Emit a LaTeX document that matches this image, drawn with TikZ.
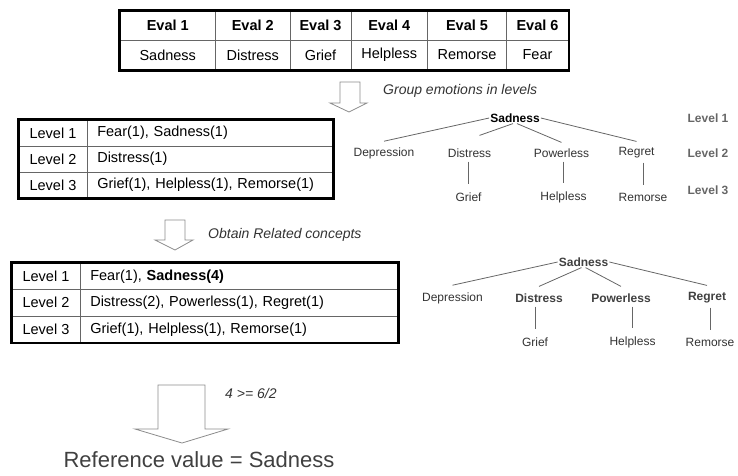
\documentclass[tikz,border=0pt]{standalone}
\usepackage{fontspec}
\setmainfont{Liberation Sans}
\usepackage{tikz}
\tikzstyle{cell}=[
        draw=black!60,
        line width=0.6pt,
        inner sep=0pt,
        font=\fontsize{14.5}{17}\selectfont
]
\tikzstyle{headcell}=[
        cell,
        font=\fontsize{14.5}{17}\selectfont\bfseries
]
\tikzstyle{frame}=[
        draw=black,
        line width=2.5pt
]
\tikzstyle{blockarrow}=[
        draw=black!45,
        fill=white,
        line width=0.8pt
]
\tikzstyle{note}=[
        font=\fontsize{14}{16}\selectfont\itshape,
        text=black!80,
        anchor=west,
        inner sep=0pt
]
\tikzstyle{concept}=[
        font=\fontsize{12}{14}\selectfont,
        text=black!80,
        inner sep=1pt
]
\tikzstyle{rootconcept}=[
        concept,
        font=\fontsize{12}{14}\selectfont\bfseries
]
\tikzstyle{levelname}=[
        font=\fontsize{12}{14}\selectfont\bfseries,
        text=black!60
]
\tikzstyle{branch}=[
        draw=black!60,
        line width=0.8pt
]
\tikzstyle{stem}=[
        branch,
        shorten <=3pt,
        shorten >=7pt
]

\begin{document}
\begin{tikzpicture}[x=1pt, y=-1pt]
                        \useasboundingbox (0,0) rectangle (738,475);

                        % evaluations
                        \foreach \l/\r/\h/\e [count=\i] in {120/215.5/Eval 1/Sadness, 215.5/290/Eval 2/Distress, 290/351/Eval 3/Grief, 351/427.5/Eval 4/Helpless, 427.5/506.5/Eval 5/Remorse, 506.5/568.5/Eval 6/Fear} {
                            \node[headcell, minimum width=\r-\l, minimum height=29] (h\i) at ({(\l+\r)/2},25.5) {\h};
                            \node[cell, minimum width=\r-\l, minimum height=30] (e\i) at ({(\l+\r)/2},55) {\e};
                        }
                        \draw[frame] (h1.north west) rectangle (e6.south east);

                        \draw[blockarrow] (340,82) -- (360,82) -- (360,103) -- (367,103) -- (349,112) -- (330,103) -- (340,103) -- cycle;
                        \node[note] (groupnote) at (383,91) {Group emotions in levels};

                        % first grouping
                        \foreach \lv/\txt [count=\i] in {Level 1/{Fear(1), Sadness(1)}, Level 2/{Distress(1)}, Level 3/{Grief(1), Helpless(1), Remorse(1)}} {
                            \node[cell, minimum width=68, minimum height=26] (la\i) at (53,107+26*\i) {\lv};
                            \node[cell, text width=226pt, inner xsep=10pt, align=left, minimum height=26, anchor=west] (ga\i) at (87,107+26*\i) {\txt};
                        }
                        \draw[frame] (la1.north west) rectangle (ga3.south east);

                        \node[rootconcept, text=black] (sad1) at (515,118) {Sadness};
                        \node[concept] (dep1) at (384,153) {Depression};
                        \node[concept] (dis1) at (469.5,153) {Distress};
                        \node[concept] (pow1) at (561.5,153) {Powerless};
                        \node[concept] (reg1) at (636.5,153) {Regret};
                        \node[concept] (gri1) at (468.5,197) {Grief};
                        \node[concept] (hel1) at (563.5,197) {Helpless};
                        \node[concept] (rem1) at (643,197) {Remorse};
                        \node[levelname] (lvl1) at (708,118) {Level 1};
                        \node[levelname] (lvl2) at (708,153) {Level 2};
                        \node[levelname] (lvl3) at (708,190) {Level 3};

                        \draw[branch] (sad1.west) -- ([yshift=5pt]dep1.north);
                        \draw[branch] (sad1.250) -- ([shift={(10pt,12pt)}]dis1.north);
                        \draw[branch] (sad1.290) -- ([yshift=5pt]pow1.north);
                        \draw[branch] (sad1.east) -- ([yshift=5pt]reg1.north);
                        \draw[stem] (gri1.north |- dis1.south) -- (gri1.north);
                        \draw[stem] (hel1.north |- pow1.south) -- (hel1.north);
                        \draw[stem] (rem1.north |- reg1.south) -- (rem1.north);

                        \draw[blockarrow] (165,220) -- (185,220) -- (185,240) -- (193,240) -- (175,250) -- (155,240) -- (165,240) -- cycle;
                        \node[note] (obtainnote) at (208,235) {Obtain Related concepts};

                        % related concepts
                        \foreach \lv/\txt [count=\i] in {Level 1/{Fear(1), \textbf{Sadness(4)}}, Level 2/{Distress(2), Powerless(1), Regret(1)}, Level 3/{Grief(1), Helpless(1), Remorse(1)}} {
                            \node[cell, minimum width=68, minimum height=26.5] (lb\i) at (46,249.75+26.5*\i) {\lv};
                            \node[cell, text width=298pt, inner xsep=10pt, align=left, minimum height=26.5, anchor=west] (gb\i) at (80,249.75+26.5*\i) {\txt};
                        }
                        \draw[frame] (lb1.north west) rectangle (gb3.south east);

                        \node[rootconcept, text=black!75] (sad2) at (583.5,262) {Sadness};
                        \node[concept] (dep2) at (452.5,298) {Depression};
                        \node[rootconcept, text=black!75] (dis2) at (539,298) {Distress};
                        \node[rootconcept, text=black!75] (pow2) at (621,298) {Powerless};
                        \node[rootconcept, text=black!75] (reg2) at (707,298) {Regret};
                        \node[concept] (gri2) at (535,342) {Grief};
                        \node[concept] (hel2) at (632.5,342) {Helpless};
                        \node[concept] (rem2) at (710,342) {Remorse};

                        \draw[branch] (sad2.west) -- ([yshift=6pt]dep2.north);
                        \draw[branch] (sad2.250) -- ([yshift=6pt]dis2.north);
                        \draw[branch] (sad2.290) -- ([yshift=6pt]pow2.north);
                        \draw[branch] (sad2.east) -- ([yshift=6pt]reg2.north);
                        \draw[stem] (gri2.north |- dis2.south) -- (gri2.north);
                        \draw[stem] (hel2.north |- pow2.south) -- (hel2.north);
                        \draw[stem] (rem2.north |- reg2.south) -- (rem2.north);

                        % decision
                        \draw[blockarrow] (158,385) -- (205,385) -- (205,429) -- (228,429) -- (182,443) -- (135,429) -- (158,429) -- cycle;
                        \node[note] (rulenote) at (225,393) {4 >= 6/2};
                        \node[font=\fontsize{22}{26}\selectfont, text=black!75] (result) at (199,460) {Reference value = Sadness};

                    \end{tikzpicture}
\end{document}
